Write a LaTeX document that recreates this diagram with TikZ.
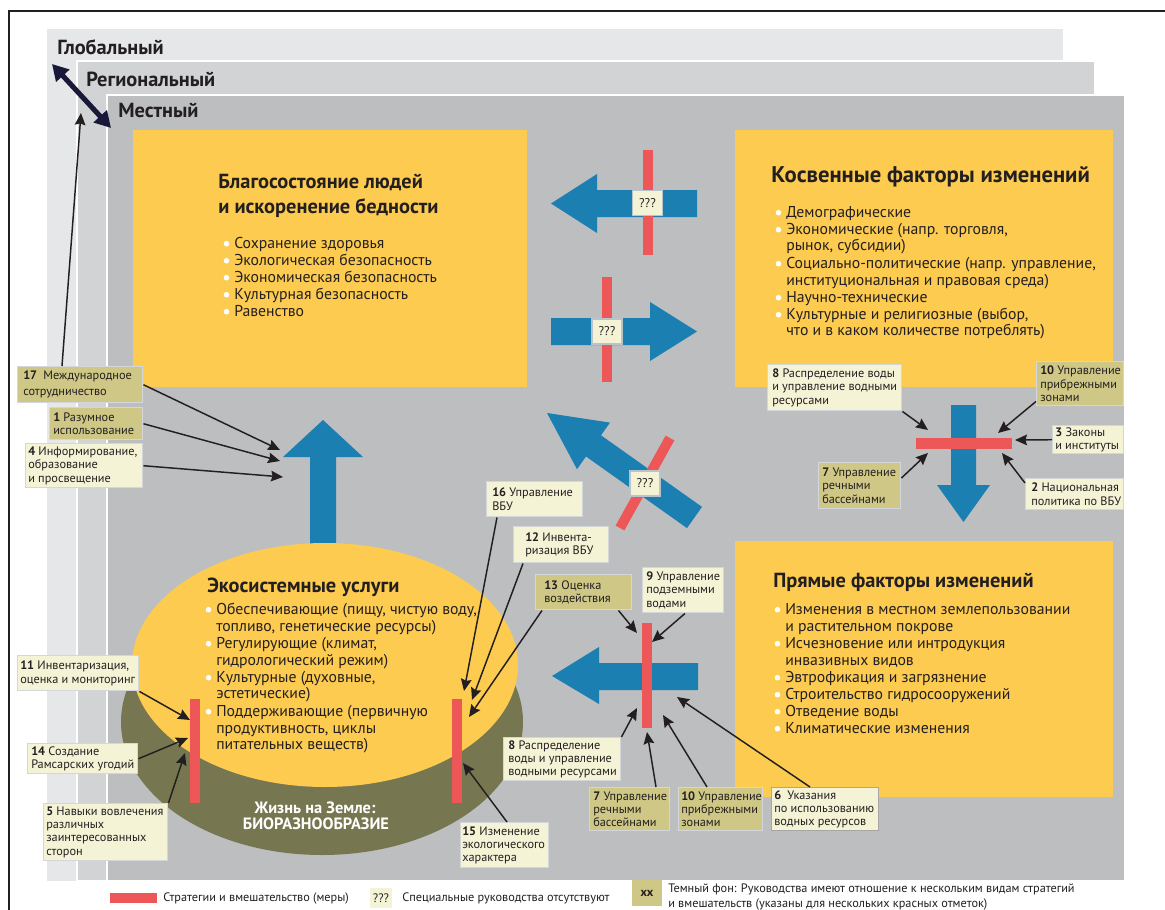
\documentclass[tikz,border=0pt]{standalone}
\usepackage{fontspec}
\setmainfont{PT Sans}
\usetikzlibrary{arrows.meta,calc}
\definecolor{glob}{HTML}{E6E7E8}
\definecolor{regc}{HTML}{D1D3D4}
\definecolor{locc}{HTML}{BCBEC0}
\definecolor{yel}{HTML}{FCCB50}
\definecolor{blu}{HTML}{1C7FB2}
\definecolor{rd}{HTML}{EE5757}
\definecolor{olv}{HTML}{767750}
\definecolor{labL}{HTML}{F5F3D6}
\definecolor{labD}{HTML}{CEC785}
\definecolor{labB}{HTML}{D3D7DC}
\definecolor{qbord}{HTML}{B9C3CC}
\definecolor{ink}{HTML}{231F20}
\definecolor{navy}{HTML}{1A1838}
\newcommand\lbl[8]{%
  \pgfmathsetmacro\lblW{(#4-#2)*0.75}%
  \pgfmathsetmacro\lblH{(#5-#3)*0.75}%
  \node[lab, #6, minimum width=\lblW pt, minimum height=\lblH pt, anchor=north west] (#1) at (#2,#3) {};
  \node[labtxt, anchor=west] (#1t) at ($(#1.west)+(#7,0)$) {#8};}
\newcommand\bline[4]{%
  \node[body] (#1) at (#2,#3) {#4};
  \fill[white] ({#2-7.5},{#3-4.3}) circle[radius=2.8];}
\begin{document}
\begin{tikzpicture}[x=0.75pt,y=-0.75pt,
  lab/.style={draw=labB, line width=1.1pt, inner sep=0pt},
  labtxt/.style={align=left, inner sep=0pt, text=ink, font=\fontsize{9.2}{10}\selectfont},
  body/.style={anchor=base west, inner sep=0pt, text=ink, font=\fontsize{11.8}{12.75}\selectfont},
  ttl/.style={anchor=base west, inner sep=0pt, text=ink, font=\fontsize{15.3}{17}\selectfont\bfseries},
  lvl/.style={anchor=base west, inner sep=0pt, text=ink, font=\fontsize{15.3}{17}\selectfont\bfseries},
  qbox/.style={draw=qbord, line width=1.1pt, fill=labL, inner sep=0pt, minimum width=22.5pt, minimum height=18.75pt, text=ink, font=\fontsize{9.5}{10}\selectfont},
  conn/.style={draw=ink, line width=1.1pt, -{Stealth[length=9pt,width=8pt,inset=1.2pt]}},
  leg/.style={inner sep=0pt, text=ink, font=\fontsize{9.2}{10}\selectfont}]
\useasboundingbox (0,0) rectangle (1165,910);
\fill[white] (0,0) rectangle (1165,910);
% panels
\fill[glob] (47,29) rectangle (1063,881);
\filldraw[fill=regc, draw=white, line width=1.2pt] (77,61) rectangle (1095,881);
\filldraw[fill=locc, draw=white, line width=1.2pt] (107,95) rectangle (1125,881);
\draw[ink, line width=1.2pt] (9,910) -- (9,11) -- (1165,11);
\node[lvl] (glab) at (57,54) {Глобальный};
\node[lvl] (rlab) at (86,86) {Региональный};
\node[lvl] (mlab) at (118,117) {Местный};
\coordinate (dA) at (52,64);
\coordinate (dB) at (111,128);
\draw[navy, line width=3.8pt, {Triangle[length=12pt,width=13pt]}-{Triangle[length=12pt,width=13pt]}] (dA) -- (dB);
% yellow boxes
\fill[yel] (133,130) rectangle (527,387);
\fill[yel] (735,130) rectangle (1113,387);
\fill[yel] (735,541) rectangle (1113,797);
% up arrow
\fill[blu] (310,548) -- (310,457) -- (283,457) -- (323,420) -- (363,457) -- (336,457) -- (336,548) -- cycle;
% ellipses
\fill[olv] (322,722) ellipse[x radius=201, y radius=133];
\fill[yel] (325,665) ellipse[x radius=193, y radius=122];
% blue arrows with red bars
\fill[blu] (697,190) -- (597,190) -- (597,174) -- (551,203.5) -- (597,233) -- (597,217) -- (697,217) -- cycle;
\fill[rd] (643,150) rectangle (653,255);
\fill[blu] (551,318) -- (650,318) -- (650,302) -- (697,331.5) -- (650,361) -- (650,345) -- (551,345) -- cycle;
\fill[rd] (602,277) rectangle (612,382);
\fill[blu] (547,413) -- (610,422.6) -- (601,435.3) -- (702,506.9) -- (687,528.1) -- (586,456.5) -- (577,469.2) -- cycle;
\draw[rd, line width=7.5pt] (670,438) -- (620,528);
\fill[blu] (951,405) -- (976,405) -- (976,485) -- (990,485) -- (963.5,522) -- (937,485) -- (951,485) -- cycle;
\fill[rd] (916,438) rectangle (1012,449);
\fill[blu] (698,663) -- (599,663) -- (599,647) -- (552,676) -- (599,704) -- (599,690) -- (698,690) -- cycle;
\fill[rd] (642,623) rectangle (652,728);
\fill[rd] (190,699) rectangle (200,803);
\fill[rd] (452,699) rectangle (462,803);
% ??? boxes
\node[qbox] (q1) at (647.5,203) {???};
\node[qbox] (q2) at (607,331.5) {???};
\node[qbox] (q3) at (645,483.5) {???};
% top-left text
\node[ttl] (tl1) at (218,188) {Благосостояние людей};
\node[ttl] (tl2) at (218,213) {и искоренение бедности};
\bline{tlb1}{234}{248}{Сохранение здоровья}
\bline{tlb2}{234}{265}{Экологическая безопасность}
\bline{tlb3}{234}{282}{Экономическая безопасность}
\bline{tlb4}{234}{299}{Культурная безопасность}
\bline{tlb5}{234}{316}{Равенство}
% top-right text
\node[ttl, font=\fontsize{17}{19}\selectfont\bfseries] (tr1) at (771,182) {Косвенные факторы изменений};
\bline{trb1}{786}{217}{Демографические}
\bline{trb2}{786}{234}{Экономические (напр. торговля,}
\node[body] (trb3) at (786,250) {рынок, субсидии)};
\bline{trb4}{786}{268}{Социально-политические (напр. управление,}
\node[body] (trb5) at (786,285) {институциональная и правовая среда)};
\bline{trb6}{786}{302}{Научно-технические}
\bline{trb7}{786}{319}{Культурные и религиозные (выбор,}
\node[body] (trb8) at (786,335) {что и в каком количестве потреблять)};
% bottom-right text
\node[ttl] (br1) at (773,587) {Прямые факторы изменений};
\bline{brb1}{785}{614}{Изменения в местном землепользовании}
\node[body] (brb2) at (785,631) {и растительном покрове};
\bline{brb3}{785}{648}{Исчезновение или интродукция}
\node[body] (brb4) at (785,665) {инвазивных видов};
\bline{brb5}{785}{682}{Эвтрофикация и загрязнение}
\bline{brb6}{785}{699}{Строительство гидросооружений}
\bline{brb7}{785}{716}{Отведение воды}
\bline{brb8}{785}{733}{Климатические изменения}
% ellipse text
\node[ttl] (el1) at (207,592) {Экосистемные услуги};
\bline{elb1}{216}{614}{Обеспечивающие (пищу, чистую воду,}
\node[body] (elb2) at (216,631) {топливо, генетические ресурсы)};
\bline{elb3}{216}{648}{Регулирующие (климат,}
\node[body] (elb4) at (216,665) {гидрологический режим)};
\bline{elb5}{216}{682}{Культурные (духовные,}
\node[body] (elb6) at (216,698) {эстетические)};
\bline{elb7}{216}{716}{Поддерживающие (первичную}
\node[body] (elb8) at (216,733) {продуктивность, циклы};
\node[body] (elb9) at (216,749) {питательных веществ)};
\node[anchor=base, inner sep=0pt, text=white, font=\fontsize{12.3}{13}\selectfont\bfseries] (bio1) at (315,813) {Жизнь на Земле:};
\node[anchor=base, inner sep=0pt, text=white, font=\fontsize{12.3}{13}\selectfont\bfseries] (bio2) at (316,829) {БИОРАЗНООБРАЗИЕ};
% labels
\lbl{l17}{17}{366}{142}{402}{fill=labD}{6}{\textbf{17}\enspace Международное\\[2pt]сотрудничество}
\lbl{l1}{49}{407}{142}{439}{fill=labD}{4}{\textbf{1} Разумное\\использование}
\lbl{l4}{25}{443}{142}{487}{fill=labL}{3}{\textbf{4} Информирование,\\образование\\и просвещение}
\lbl{l11}{17}{655}{138}{690}{fill=labL}{3}{\textbf{11} Инвентаризация,\\оценка и мониторинг}
\lbl{l14}{27}{743}{137}{773}{fill=labL}{4}{\textbf{14} Создание\\Рамсарских угодий}
\lbl{l5}{43}{803}{167}{860}{fill=labL}{3}{\textbf{5} Навыки вовлечения\\различных\\заинтересованных\\сторон}
\lbl{l16}{486}{481}{582}{516}{fill=labL}{6}{\textbf{16} Управление\\ВБУ}
\lbl{l12}{513}{526}{608}{562}{fill=labL}{12}{\textbf{12} Инвента-\\ризация ВБУ}
\lbl{l13}{535}{574}{631}{609}{fill=labD}{9}{\textbf{13} Оценка\\воздействия}
\lbl{l9}{642}{567}{723}{612}{fill=labL}{4}{\textbf{9} Управление\\подземными\\водами}
\lbl{l8b}{503}{737}{620}{780}{fill=labL}{5}{\textbf{8} Распределение\\воды и управление\\водными ресурсами}
\lbl{l7b}{589}{787}{669}{830}{fill=labD}{4}{\textbf{7} Управление\\речными\\бассейнами}
\lbl{l10b}{678}{787}{762}{830}{fill=labD}{3}{\textbf{10} Управление\\прибрежными\\зонами}
\lbl{l6}{771}{787}{878}{830}{fill=labL, draw=gray!70}{3}{\textbf{6}\enspace Указания\\по использованию\\водных ресурсов}
\lbl{l15}{460}{822}{548}{867}{fill=labL}{2}{\textbf{15} Изменение\\экологического\\характера}
\lbl{l8r}{767}{364}{901}{410}{fill=labL}{5}{\textbf{8} Распределение воды\\и управление водными\\ресурсами}
\lbl{l10r}{1036}{361}{1123}{405}{fill=labD}{4}{\textbf{10} Управление\\прибрежными\\зонами}
\lbl{l3}{1052}{425}{1123}{453}{fill=labL}{3}{\textbf{3} Законы\\и институты}
\lbl{l7r}{818}{462}{900}{508}{fill=labD}{4}{\textbf{7} Управление\\речными\\бассейнами}
\lbl{l2}{1025}{478}{1123}{509}{fill=labL}{6}{\textbf{2} Национальная\\политика по ВБУ}
% connectors
\coordinate (g17) at (81,113);
\draw[conn] ($(l17.north west)+(45,0)$) -- (g17);
\coordinate (a17) at (280,450);
\coordinate (a1) at (280,461);
\coordinate (a4) at (283,477);
\draw[conn] (l17.east) -- (a17);
\draw[conn] (l1.east) -- (a1);
\draw[conn] (l4.east) -- (a4);
\coordinate (a11) at (190,720);
\coordinate (a14) at (188,738);
\coordinate (a5) at (185,753);
\draw[conn] (l11.south east) -- (a11);
\draw[conn] (l14.east) -- (a14);
\draw[conn] (l5.north east) -- (a5);
\coordinate (a16) at (464,691);
\coordinate (a12) at (472,700);
\coordinate (a13) at (469,717);
\draw[conn] ($(l16.south west)+(11,0)$) -- (a16);
\draw[conn] ($(l12.south west)+(10,0)$) -- (a12);
\draw[conn] ($(l13.south west)+(7,0)$) -- (a13);
\coordinate (b13) at (637,633);
\coordinate (b9) at (652,642);
\coordinate (b8) at (637,708);
\coordinate (b7) at (647,732);
\coordinate (b10) at (663,715);
\coordinate (b6) at (677,697);
\draw[conn] ($(l13.south east)+(-14,0)$) -- (b13);
\draw[conn] ($(l9.south west)+(43,0)$) -- (b9);
\draw[conn] (l8b.north east) -- (b8);
\draw[conn] ($(l7b.north west)+(67,0)$) -- (b7);
\draw[conn] ($(l10b.north west)+(29,0)$) -- (b10);
\draw[conn] ($(l6.north west)+(39,0)$) -- (b6);
\coordinate (a15) at (463,763);
\draw[conn] ($(l15.north west)+(47,0)$) -- (a15);
\coordinate (c8) at (928,430);
\coordinate (c10) at (998,433);
\coordinate (c3) at (1015,440);
\coordinate (c7) at (928,453);
\coordinate (c2) at (1002,453);
\draw[conn] (l8r.south east) -- (c8);
\draw[conn] ($(l10r.south west)+(0,-5)$) -- (c10);
\draw[conn] (l3.west) -- (c3);
\draw[conn] ($(l7r.north east)+(0,16)$) -- (c7);
\draw[conn] ($(l2.north west)+(0,5)$) -- (c2);
% legend
\fill[rd] (110,893) rectangle (157,903);
\node[leg, anchor=west] (lg1) at (163,898) {Стратегии и вмешательство (меры)};
\node[fill=labL, inner sep=0pt, minimum width=17pt, minimum height=15pt, text=ink, font=\fontsize{9.2}{10}\selectfont] (lgq) at (381,898) {???};
\node[leg, anchor=west] (lg2) at (402,898) {Специальные руководства отсутствуют};
\node[fill=labD, inner sep=0pt, minimum width=22pt, minimum height=19pt, text=ink, font=\fontsize{9.2}{10}\selectfont\bfseries] (lgx) at (647,893) {xx};
\node[leg, anchor=base west] (lg3) at (668,892) {Темный фон: Руководства имеют отношение к нескольким видам стратегий};
\node[leg, anchor=base west] (lg4) at (668,907) {и вмешательств (указаны для нескольких красных отметок)};
\end{tikzpicture}
\end{document}
